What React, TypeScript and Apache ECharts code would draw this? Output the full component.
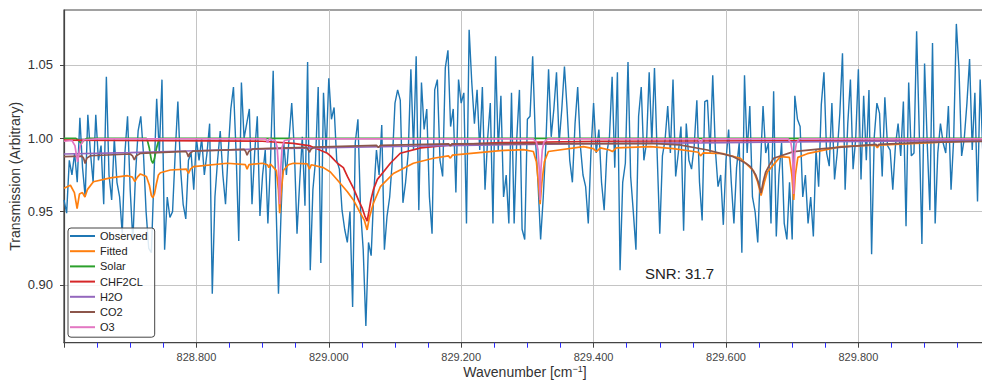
import React, { useEffect, useRef } from "react";
import * as echarts from "echarts";

// ---------- data ----------
const X_START = 828.6;
const X_STEP = 0.004;

const observed: number[] = [
  0.958, 0.949, 0.985, 0.975, 0.990, 0.970, 1.014, 0.980, 0.960, 1.016,
  0.990, 0.970, 1.016, 0.985, 0.995, 0.955, 1.042, 0.975, 0.958, 1.000,
  0.970, 0.960, 0.935, 0.990, 1.015, 0.965, 0.930, 0.975, 1.005, 1.015,
  0.990, 0.950, 0.925, 0.922, 0.975, 1.027, 0.990, 1.040, 0.924, 0.960,
  0.946, 0.950, 0.990, 1.025, 0.980, 0.955, 0.945, 0.985, 0.990, 0.965,
  1.000, 0.985, 1.000, 0.975, 0.990, 1.010, 0.894, 0.960, 0.985, 1.005,
  0.975, 0.955, 0.990, 1.020, 1.035, 0.990, 0.930, 1.038, 1.000, 1.010,
  1.020, 0.955, 0.990, 1.015, 0.947, 0.975, 0.992, 0.942, 0.985, 1.046,
  0.960, 0.894, 0.951, 0.997, 0.975, 1.000, 1.024, 0.992, 0.935, 0.970,
  1.001, 0.954, 1.052, 0.910, 0.965, 0.985, 1.035, 0.915, 1.031, 0.990,
  1.041, 1.013, 1.021, 0.985, 0.979, 0.951, 0.938, 0.929, 0.950, 0.885,
  0.997, 1.013, 0.951, 0.924, 0.872, 0.929, 0.920, 0.963, 0.992, 0.975,
  1.009, 0.924, 0.947, 0.960, 0.985, 1.024, 1.033, 1.026, 0.956, 0.970,
  0.990, 1.047, 0.992, 1.056, 0.951, 1.038, 1.006, 1.020, 0.960, 0.935,
  1.033, 1.040, 0.985, 0.974, 1.048, 1.060, 1.008, 1.020, 0.963, 1.040,
  1.024, 1.031, 0.942, 1.074, 1.038, 1.010, 1.033, 0.992, 1.035, 0.965,
  1.000, 1.024, 0.942, 1.056, 0.992, 1.029, 0.960, 0.975, 0.942, 1.031,
  0.942, 1.000, 1.033, 0.938, 0.931, 1.013, 1.015, 1.056, 1.001, 0.970,
  0.931, 0.960, 0.997, 1.047, 1.001, 1.020, 1.045, 0.997, 1.020, 1.049,
  1.020, 0.985, 0.970, 1.010, 1.035, 0.995, 0.975, 0.967, 0.942, 0.990,
  1.024, 0.990, 1.006, 0.970, 0.951, 0.990, 1.001, 1.042, 0.980, 1.045,
  0.910, 0.970, 0.983, 1.052, 0.974, 0.950, 0.924, 1.015, 1.035, 0.985,
  0.997, 1.045, 0.997, 1.048, 0.990, 0.935, 0.988, 0.999, 1.022, 0.990,
  1.040, 0.974, 0.990, 1.008, 0.937, 1.010, 0.985, 0.979, 0.995, 1.026,
  0.970, 0.944, 1.025, 1.026, 0.990, 1.043, 0.992, 0.967, 0.975, 0.941,
  0.985, 1.006, 0.970, 0.942, 0.980, 0.997, 0.922, 1.043, 0.990, 1.022,
  0.960, 0.950, 0.929, 0.980, 1.022, 0.990, 0.997, 0.942, 1.032, 0.933,
  0.975, 0.997, 0.942, 0.931, 0.970, 0.931, 1.029, 1.013, 1.008, 0.960,
  0.975, 0.942, 0.960, 0.933, 0.992, 0.967, 1.023, 1.045, 0.990, 0.981,
  1.024, 0.972, 0.990, 1.017, 1.058, 0.965, 1.010, 1.040, 0.979, 1.000,
  1.047, 0.972, 1.029, 0.985, 1.033, 0.921, 1.001, 1.024, 1.017, 0.974,
  1.028, 0.995, 0.992, 0.965, 0.995, 1.010, 0.988, 1.025, 0.940, 1.038,
  0.988, 0.990, 1.073, 1.004, 0.928, 1.051, 0.997, 0.951, 1.065, 0.942,
  0.990, 1.010, 0.997, 0.990, 1.022, 0.965, 1.000, 1.078, 1.047, 0.988,
  1.000, 1.024, 1.054, 0.992, 1.031, 0.957, 1.040, 0.990, 1.010,
];

const fitted: [number, number][] = [
  [828.600, 0.966], [828.6097, 0.968], [828.6157, 0.963], [828.6198, 0.952],
  [828.6233, 0.962], [828.6278, 0.963], [828.6316, 0.960], [828.6353, 0.965],
  [828.6444, 0.9704], [828.670, 0.973], [828.6958, 0.9745], [828.7033, 0.9735],
  [828.707, 0.9705], [828.7109, 0.9735], [828.7154, 0.9757], [828.7245, 0.974],
  [828.729, 0.968], [828.732, 0.961], [828.7343, 0.9595], [828.7366, 0.962],
  [828.7396, 0.969], [828.7426, 0.975], [828.7456, 0.9765], [828.7607, 0.9784],
  [828.7849, 0.979], [828.788, 0.976], [828.791, 0.979], [828.7955, 0.9807],
  [828.8468, 0.983], [828.874, 0.982], [828.8766, 0.979], [828.8793, 0.982],
  [828.8997, 0.983], [828.9073, 0.982], [828.9095, 0.980], [828.9118, 0.9825],
  [828.9208, 0.978], [828.9239, 0.965], [828.9258, 0.949], [828.9284, 0.965],
  [828.9314, 0.978], [828.939, 0.982], [828.9465, 0.983], [828.9677, 0.9825],
  [828.9707, 0.979], [828.9737, 0.982], [828.9918, 0.980], [829.0024, 0.977],
  [829.013, 0.9716], [829.0281, 0.9636], [829.0372, 0.958], [829.0477, 0.949],
  [829.0538, 0.944], [829.0579, 0.9375], [829.0613, 0.946], [829.0674, 0.9557],
  [829.0779, 0.967], [829.0976, 0.976], [829.1278, 0.983], [829.158, 0.9864],
  [829.1807, 0.988], [829.1837, 0.9865], [829.1867, 0.9885], [829.2592, 0.9916],
  [829.294, 0.9923], [829.309, 0.991], [829.3136, 0.984], [829.3166, 0.970],
  [829.3192, 0.955], [829.3219, 0.970], [829.3257, 0.984], [829.3317, 0.991],
  [829.3846, 0.9943], [829.3997, 0.993], [829.4042, 0.991], [829.4103, 0.9935],
  [829.4239, 0.992], [829.4284, 0.991], [829.4344, 0.9935], [829.4858, 0.9943],
  [829.5205, 0.993], [829.5583, 0.9905], [829.5615, 0.988], [829.5655, 0.990],
  [829.5961, 0.9895], [829.6217, 0.9864], [829.6414, 0.978], [829.6474, 0.971],
  [829.653, 0.961], [829.658, 0.970], [829.6625, 0.977], [829.6822, 0.9875],
  [829.6958, 0.987], [829.6995, 0.975], [829.7023, 0.958], [829.7048, 0.975],
  [829.7086, 0.987], [829.7229, 0.9895], [829.7728, 0.9943], [829.8257, 0.9954],
  [829.8287, 0.9935], [829.8317, 0.9954], [829.9737, 0.9984], [830.000, 0.9985],
];

const solar: [number, number][] = [
  [828.600, 1.0], [828.618, 1.0], [828.622, 0.9985], [828.626, 0.9965],
  [828.630, 0.9985], [828.635, 1.0], [828.7245, 1.0], [828.726, 0.9985],
  [828.729, 0.993], [828.732, 0.985], [828.7343, 0.983], [828.7366, 0.986],
  [828.7396, 0.993], [828.7426, 0.998], [828.7456, 1.0], [830.000, 1.0],
];

const chf2cl: [number, number][] = [
  [828.600, 0.9988], [828.900, 0.998], [828.9465, 0.9966], [828.972, 0.9948],
  [828.998, 0.9898], [829.0024, 0.988], [829.013, 0.983], [829.022, 0.980],
  [829.0281, 0.974], [829.0372, 0.966], [829.0447, 0.958], [829.0508, 0.952],
  [829.0545, 0.947], [829.0579, 0.9435], [829.0606, 0.950], [829.0636, 0.958],
  [829.0674, 0.965], [829.0734, 0.972], [829.0825, 0.977], [829.093, 0.983],
  [829.108, 0.9898], [829.139, 0.9935], [829.184, 0.9955], [829.260, 0.997],
  [829.410, 0.998], [830.000, 0.9988],
];

const h2o: [number, number][] = [
  [828.600, 0.9893], [828.700, 0.9902], [828.800, 0.9915], [828.900, 0.9928],
  [829.000, 0.9936], [829.100, 0.9944], [829.200, 0.9952], [829.300, 0.9958],
  [829.400, 0.9963], [829.500, 0.9967], [829.600, 0.9971], [829.700, 0.9975],
  [829.800, 0.9979], [829.900, 0.9982], [830.000, 0.9984],
];

const co2: [number, number][] = [
  [828.600, 0.9875], [828.627, 0.9879], [828.6295, 0.9865], [828.632, 0.9828],
  [828.6345, 0.9865], [828.640, 0.9881], [828.700, 0.9893], [828.7035, 0.988],
  [828.7063, 0.9852], [828.709, 0.988], [828.715, 0.9897], [828.784, 0.9911],
  [828.786, 0.9897], [828.788, 0.9872], [828.790, 0.9897], [828.795, 0.9913],
  [828.872, 0.9925], [828.8745, 0.991], [828.8766, 0.9885], [828.879, 0.991],
  [828.885, 0.9927], [828.966, 0.9938], [828.9685, 0.9925], [828.9707, 0.9905],
  [828.973, 0.9925], [828.978, 0.994], [829.072, 0.9952], [829.075, 0.9937],
  [829.078, 0.9952], [829.181, 0.9962], [829.1837, 0.9948], [829.186, 0.9962],
  [829.486, 0.9966], [829.530, 0.9955], [829.572, 0.992], [829.611, 0.9875],
  [829.630, 0.983], [829.637, 0.9807], [829.645, 0.975], [829.649, 0.970],
  [829.653, 0.9627], [829.656, 0.970], [829.660, 0.977], [829.666, 0.982],
  [829.672, 0.9864], [829.702, 0.9909], [829.747, 0.993], [829.8265, 0.9958],
  [829.8287, 0.9948], [829.831, 0.9958], [829.900, 0.9972], [830.000, 0.998],
];

const o3: [number, number][] = [
  [828.600, 0.998], [828.612, 0.9985], [828.6165, 0.995], [828.619, 0.988],
  [828.6205, 0.984], [828.622, 0.988], [828.6245, 0.995], [828.630, 0.999],
  [828.650, 0.9996], [828.905, 0.9996], [828.9075, 0.997], [828.910, 0.9996],
  [828.919, 0.9985], [828.922, 0.994], [828.924, 0.980], [828.9258, 0.955],
  [828.9275, 0.980], [828.9295, 0.994], [828.933, 0.9985], [828.945, 0.9996],
  [829.309, 0.9996], [829.3135, 0.9975], [829.316, 0.992], [829.3178, 0.980],
  [829.3192, 0.958], [829.3206, 0.980], [829.3225, 0.992], [829.325, 0.9975],
  [829.331, 0.9996], [829.558, 0.9996], [829.5615, 0.997], [829.565, 0.9996],
  [829.694, 0.9996], [829.698, 0.997], [829.7005, 0.99], [829.7023, 0.962],
  [829.704, 0.99], [829.7065, 0.997], [829.711, 0.9996], [830.000, 0.9997],
];

const seriesNames = ["Observed", "Fitted", "Solar", "CHF2CL", "H2O", "CO2", "O3"];
const seriesColors = ["#1f77b4", "#ff7f0e", "#2ca02c", "#d62728", "#9467bd", "#8c564b", "#e377c2"];
const yTickValues = [0.9, 0.95, 1.0, 1.05];
const snrLabel = "SNR: 31.7";

const FONT = "'Liberation Sans', Arial, Helvetica, sans-serif";

export default function App() {
  const ref = useRef<HTMLDivElement>(null);

  useEffect(() => {
    if (!ref.current) return;
    const chart = echarts.init(ref.current, undefined, { renderer: "svg", width: 1000, height: 381 });

    const observedData = observed.map((v, i) => [X_START + i * X_STEP, v]);
    const curves = [observedData, fitted, solar, chf2cl, h2o, co2, o3];

    const series = curves.map((d, k) => ({
      name: seriesNames[k],
      type: "line",
      data: d,
      symbol: "none",
      showSymbol: false,
      smooth: false,
      lineStyle: { color: seriesColors[k], width: k === 0 ? 1.4 : 1.7 },
      itemStyle: { color: seriesColors[k] },
      emphasis: { disabled: true },
      z: 2 + k,
    }));

    const option: any = {
      animation: false,
      textStyle: { fontFamily: FONT },
      grid: {
        left: 64,
        top: 10,
        right: 14,
        bottom: 38.3,
        outerBoundsMode: "none",
        containLabel: false,
        show: true,
        borderColor: "#444",
        borderWidth: 1.2,
        backgroundColor: "transparent",
      },
      legend: {
        orient: "vertical",
        left: 68,
        top: 228,
        data: seriesNames,
        icon: "rect",
        itemWidth: 25,
        itemHeight: 2,
        itemGap: 3.2,
        padding: [2, 7, 4, 2],
        borderColor: "#444",
        borderWidth: 1,
        borderRadius: 3,
        backgroundColor: "rgba(255,255,255,0.85)",
        textStyle: { fontSize: 11, color: "#222", lineHeight: 12, fontFamily: FONT },
        selectedMode: false,
      },
      xAxis: {
        type: "value",
        min: 828.6,
        max: 829.9928,
        interval: 0.2,
        name: "{a|Wavenumber [cm}{s|\u22121}{a|]}",
        nameLocation: "middle",
        nameGap: 22,
        nameMoveOverlap: false,
        nameTextStyle: {
          rich: {
            a: { fontSize: 14, lineHeight: 14, color: "#333", fontFamily: FONT },
            s: { fontSize: 9, lineHeight: 14, color: "#333", verticalAlign: "top", fontFamily: FONT },
          },
        },
        axisLine: { show: true, onZero: false, lineStyle: { color: "#444", width: 1.2 } },
        axisTick: { show: true, length: 5, lineStyle: { color: "#444", width: 1 } },
        minorTick: { show: true, splitNumber: 4, length: 5, lineStyle: { color: "#2b2bff", width: 1 } },
        axisLabel: {
          showMinLabel: false,
          showMaxLabel: false,
          fontSize: 11,
          color: "#444",
          margin: 9,
          formatter: (v: number) => v.toFixed(3),
        },
        splitLine: { show: true, lineStyle: { color: "#c4c4c4", width: 1 } },
        minorSplitLine: { show: false },
      },
      yAxis: {
        type: "value",
        min: 0.86064,
        max: 1.08748,
        name: "Transmission (Arbitrary)",
        nameLocation: "middle",
        nameGap: 42,
        nameMoveOverlap: false,
        nameTextStyle: { fontSize: 14, color: "#333", fontFamily: FONT },
        axisLine: { show: true, onZero: false, lineStyle: { color: "#444", width: 1.2 } },
        axisTick: { show: true, length: 4, customValues: yTickValues, lineStyle: { color: "#444" } },
        axisLabel: {
          customValues: yTickValues,
          fontSize: 13,
          color: "#333",
          margin: 11,
          formatter: (v: number) => v.toFixed(2),
        },
        splitLine: { show: true, lineStyle: { color: "#c4c4c4", width: 1 } },
      },
      graphic: [
        {
          type: "text",
          x: 645,
          y: 273.5,
          z: 100,
          style: {
            text: snrLabel,
            fontSize: 15,
            fill: "#222",
            fontFamily: FONT,
            verticalAlign: "middle",
            align: "left",
          },
        },
      ],
      series,
    };

    chart.setOption(option);
    return () => chart.dispose();
  }, []);

  return (
    <div
      style={{
        position: "fixed",
        left: 0,
        top: 0,
        width: 982,
        height: 381,
        overflow: "hidden",
        background: "#fff",
      }}
    >
      <div ref={ref} style={{ width: 1000, height: 381 }} />
    </div>
  );
}
